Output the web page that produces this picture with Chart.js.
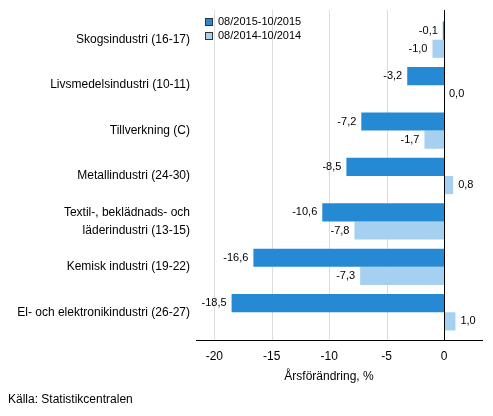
<!DOCTYPE html>
<html>
<head>
<meta charset="utf-8">
<script src="https://cdn.jsdelivr.net/npm/chart.js@4"></script>
<style>
  html, body { margin: 0; padding: 0; background: #fff; }
  canvas { display: block; }
</style>
</head>
<body>
<canvas id="chart" width="493" height="416"></canvas>
<script>
const categories = [
    'Skogsindustri (16-17)',
    'Livsmedelsindustri (10-11)',
    'Tillverkning (C)',
    'Metallindustri (24-30)',
    ['Textil-, beklädnads- och', 'läderindustri (13-15)'],
    'Kemisk industri (19-22)',
    'El- och elektronikindustri (26-27)'
];
const series2015 = [-0.1, -3.2, -7.2, -8.5, -10.6, -16.6, -18.5];
const series2014 = [-1.0, 0.0, -1.7, 0.8, -7.8, -7.3, 1.0];
const seriesNames = ['08/2015-10/2015', '08/2014-10/2014'];
const xTicks = [-20, -15, -10, -5, 0];
const axisTitle = 'Årsförändring, %';
const sourceText = 'Källa: Statistikcentralen';

const darkBlue = '#2589d3';
const lightBlue = '#a5d0f0';
const font = 'Arial, "Liberation Sans", sans-serif';

// gridlines, axis lines, value labels, legend and texts
const decorations = {
    id: 'decorations',
    beforeDatasetsDraw(chart) {
        const c = chart.ctx;
        const x = chart.scales.x;
        c.save();
        c.strokeStyle = '#dcdcdc';
        c.lineWidth = 1;
        xTicks.forEach(v => {
            if (v === 0) return;
            const px = Math.round(x.getPixelForValue(v)) + 0.5;
            c.beginPath();
            c.moveTo(px, 10);
            c.lineTo(px, 340);
            c.stroke();
        });
        c.restore();
    },
    afterDatasetsDraw(chart) {
        const c = chart.ctx;
        const x = chart.scales.x;
        const area = chart.chartArea;
        c.save();
        // zero line and x axis line
        c.strokeStyle = '#000';
        c.lineWidth = 1;
        const zx = Math.round(x.getPixelForValue(0)) + 0.5;
        c.beginPath();
        c.moveTo(zx, 10);
        c.lineTo(zx, 340);
        c.stroke();
        c.beginPath();
        c.moveTo(area.left, 340.5);
        c.lineTo(area.right, 340.5);
        c.stroke();

        // value labels
        c.font = '11px ' + font;
        c.fillStyle = '#000';
        c.textBaseline = 'middle';
        chart.data.datasets.forEach((ds, di) => {
            const meta = chart.getDatasetMeta(di);
            meta.data.forEach((bar, i) => {
                const v = ds.data[i];
                const txt = v.toFixed(1).replace('.', ',');
                if (v < 0) {
                    c.textAlign = 'right';
                    c.fillText(txt, bar.x - 5, bar.y);
                } else {
                    c.textAlign = 'left';
                    c.fillText(txt, bar.x + 5, bar.y);
                }
            });
        });

        // legend
        const colors = [darkBlue, lightBlue];
        c.textAlign = 'left';
        seriesNames.forEach((name, i) => {
            const y = 18 + i * 14;
            c.fillStyle = colors[i];
            c.fillRect(205, y, 7, 7);
            c.strokeStyle = '#333';
            c.strokeRect(205.5, y + 0.5, 7, 7);
            c.fillStyle = '#000';
            c.fillText(name, 218, y + 4);
        });

        // axis title and source
        c.font = '12px ' + font;
        c.textAlign = 'center';
        c.fillText(axisTitle, 329, 377);
        c.textAlign = 'left';
        c.fillText(sourceText, 8, 400);
        c.restore();
    }
};

new Chart(document.getElementById('chart'), {
    type: 'bar',
    data: {
        labels: categories,
        datasets: [
            { label: seriesNames[0], data: series2015, backgroundColor: darkBlue },
            { label: seriesNames[1], data: series2014, backgroundColor: lightBlue }
        ]
    },
    options: {
        indexAxis: 'y',
        responsive: false,
        animation: false,
        devicePixelRatio: 1,
        layout: { padding: { top: 17, right: 10, left: 0, bottom: 0 } },
        datasets: { bar: { categoryPercentage: 0.8, barPercentage: 1 } },
        plugins: { legend: { display: false }, tooltip: { enabled: false } },
        scales: {
            x: {
                min: -21.6,
                max: 3.4,
                afterBuildTicks: scale => { scale.ticks = xTicks.map(v => ({ value: v })); },
                afterFit: scale => { scale.height = 81; },
                grid: { display: false, drawTicks: false },
                border: { display: false },
                ticks: {
                    padding: 14,
                    color: '#000',
                    font: { size: 12, family: font },
                    callback: v => String(v)
                }
            },
            y: {
                afterFit: scale => { scale.width = 196; },
                grid: { display: false, drawTicks: false },
                border: { display: false },
                ticks: {
                    padding: 6,
                    color: '#000',
                    font: { size: 12, family: font, lineHeight: 1.5 }
                }
            }
        }
    },
    plugins: [decorations]
});
</script>
</body>
</html>
